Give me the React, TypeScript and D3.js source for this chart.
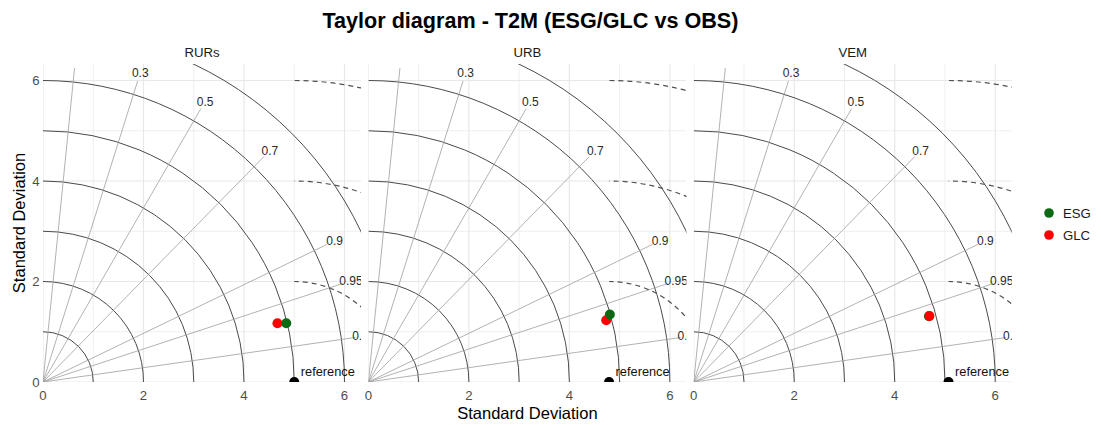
import * as d3 from "d3";

// Taylor diagram, one panel per site
const sites = ["RURs", "URB", "VEM"];
const refSd = [5.0, 4.79, 5.07];
const esgSd = [4.98, 4.99, 4.86];
const esgCor = [0.972, 0.963, 0.963];
const glcSd = [4.81, 4.89, 4.87];
const glcCor = [0.97, 0.968, 0.963];
const onTop = ["ESG", "ESG", "GLC"];

const models = ["ESG", "GLC"];
const modelColors = ["#0c6a14", "#ff0000"];

const corTicks = [0.1, 0.3, 0.5, 0.7, 0.9, 0.95, 0.99];
const corLabels = ["0.1", "0.3", "0.5", "0.7", "0.9", "0.95", "0.99"];
const sdArcs = [1, 2, 3, 4, 5, 6, 7];
const rmsArcs = [2, 4, 6];
const axisTicks = [0, 2, 4, 6];
const gridTicks = [0, 1, 2, 3, 4, 5, 6];

const width = 1101;
const height = 425;
const font = "'Liberation Sans', Arial, sans-serif";

const unit = 50.25; // px per sd unit (coord_equal)
const maxSd = 6.33;
const panelW = maxSd * unit;
const panelGap = 7.3;
const panelLeft = 43;
const panelBottom = 382;

function Panel({ i }: { i: number }) {
  const left = panelLeft + i * (panelW + panelGap);
  const x = d3.scaleLinear().domain([0, maxSd]).range([left, left + panelW]);
  const y = d3.scaleLinear().domain([0, maxSd]).range([panelBottom, panelBottom - panelW]);
  const clipId = `clip-${i}`;

  const polar = (r: number, c: number) => {
    const a = Math.acos(c);
    return [x(r * Math.cos(a)), y(r * Math.sin(a))];
  };

  const sdPath = (r: number) => {
    const p = d3.path();
    const rp = x(r) - x(0);
    p.moveTo(x(0), y(0) - rp);
    p.arc(x(0), y(0), rp, -Math.PI / 2, 0, false);
    return p.toString();
  };

  // RMSD contours around the reference
  const rmsPath = (r: number) => {
    const p = d3.path();
    const cx = x(refSd[i]);
    const rp = x(r) - x(0);
    p.moveTo(cx + rp, y(0));
    p.arc(cx, y(0), rp, 0, -Math.PI / 2, true);
    return p.toString();
  };

  const pts = models.map((m, j) => {
    const sd = j === 0 ? esgSd[i] : glcSd[i];
    const c = j === 0 ? esgCor[i] : glcCor[i];
    const [px, py] = polar(sd, c);
    return { m, px, py, color: modelColors[j] };
  });
  pts.sort((a, b) => (a.m === onTop[i] ? 1 : 0) - (b.m === onTop[i] ? 1 : 0));

  return (
    <g>
      <defs>
        <clipPath id={clipId}>
          <rect x={x(0)} y={y(maxSd)} width={panelW} height={panelW} />
        </clipPath>
      </defs>
      <text
        x={(x(0) + x(maxSd)) / 2}
        y={57}
        textAnchor="middle"
        fontSize={13.2}
        fill="#1a1a1a"
      >
        {sites[i]}
      </text>
      <g clipPath={`url(#${clipId})`}>
        {gridTicks.map((t) => (
          <g key={t}>
            <line x1={x(t)} x2={x(t)} y1={y(0)} y2={y(maxSd)} stroke="#e8e8e8" strokeWidth={t % 2 ? 0.7 : 1.2} />
            <line x1={x(0)} x2={x(maxSd)} y1={y(t)} y2={y(t)} stroke="#e8e8e8" strokeWidth={t % 2 ? 0.7 : 1.2} />
          </g>
        ))}
        {sdArcs.map((r) => (
          <path key={r} d={sdPath(r)} fill="none" stroke="#4a4a4a" strokeWidth={1} />
        ))}
        {corTicks.map((c) => {
          const [ex, ey] = polar(6.28, c);
          return <line key={c} x1={x(0)} y1={y(0)} x2={ex} y2={ey} stroke="#9e9e9e" strokeWidth={0.8} />;
        })}
        {rmsArcs.map((r) => (
          <path key={r} d={rmsPath(r)} fill="none" stroke="#505050" strokeWidth={1.2} strokeDasharray="5,4" />
        ))}
        {corTicks.map((c, k) => {
          const [lx, ly] = polar(6.45, c);
          return (
            <text key={c} x={lx} y={ly} dy="0.35em" textAnchor="middle" fontSize={12} fill="#2a2a2a">
              {corLabels[k]}
            </text>
          );
        })}
        <circle cx={x(refSd[i])} cy={y(0)} r={5} fill="#000" />
        <text x={x(refSd[i]) + 6.5} y={y(0) - 6} fontSize={12.8} fill="#111">
          reference
        </text>
        {pts.map((p) => (
          <circle key={p.m} cx={p.px} cy={p.py} r={5} fill={p.color} />
        ))}
      </g>
      {axisTicks.map((t) => (
        <text key={t} x={x(t)} y={400} textAnchor="middle" fontSize={13.2} fill="#4d4d4d">
          {t}
        </text>
      ))}
      {i === 0 &&
        axisTicks.map((t) => (
          <text key={t} x={x(0) - 3.5} y={y(t)} dy="0.35em" textAnchor="end" fontSize={13.2} fill="#4d4d4d">
            {t}
          </text>
        ))}
    </g>
  );
}

export default function App() {
  const plotMid = (panelLeft + panelLeft + 3 * panelW + 2 * panelGap) / 2;
  return (
    <svg
      width={width}
      height={height}
      style={{ position: "absolute", left: 0, top: 0, background: "#fff" }}
      fontFamily={font}
    >
      <rect width={width} height={height} fill="#fff" />
      <text x={plotMid + 3} y={28} textAnchor="middle" fontSize={21.6} fontWeight="bold" fill="#000">
        Taylor diagram - T2M (ESG/GLC vs OBS)
      </text>
      {sites.map((s, i) => (
        <Panel key={s} i={i} />
      ))}
      <text x={plotMid} y={419} textAnchor="middle" fontSize={16.5} fill="#000">
        Standard Deviation
      </text>
      <text
        transform={`translate(25,${panelBottom - panelW / 2}) rotate(-90)`}
        textAnchor="middle"
        fontSize={16.5}
        fill="#000"
      >
        Standard Deviation
      </text>
      {models.map((m, j) => (
        <g key={m} transform={`translate(1049,${213 + j * 22})`}>
          <circle r={4.8} fill={modelColors[j]} />
          <text x={14} dy="0.35em" fontSize={13.2} fill="#1a1a1a">
            {m}
          </text>
        </g>
      ))}
    </svg>
  );
}
